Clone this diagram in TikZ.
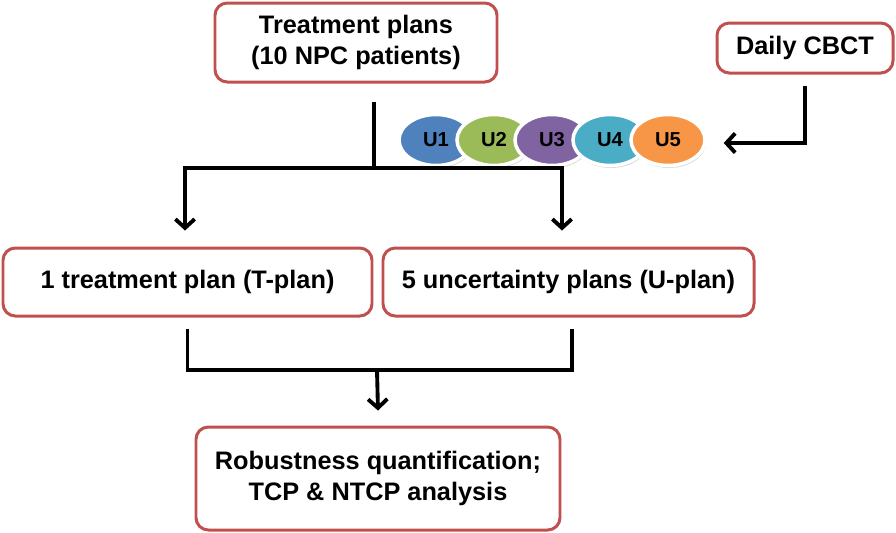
\documentclass[tikz,border=0pt]{standalone}
\usepackage{fontspec}
\setmainfont{Liberation Sans}
\usepackage{tikz}
\usetikzlibrary{arrows.meta,shapes,positioning,shadows}
\usepackage{xcolor}
\definecolor{boxred}{RGB}{192,80,77}
\definecolor{uc1}{RGB}{79,129,189}
\definecolor{uc2}{RGB}{155,187,89}
\definecolor{uc3}{RGB}{128,100,162}
\definecolor{uc4}{RGB}{75,172,198}
\definecolor{uc5}{RGB}{247,150,70}
\tikzstyle{conn} = [line width=2.2pt,color=black]
\tikzstyle{arrow} = [conn,-{Straight Barb[length=5pt,width=11pt]}]
\tikzstyle{planbox} = [rectangle, rounded corners=7pt, text centered, draw=boxred, fill=white, line width=1.7pt, font=\fontsize{14.4}{17.5}\selectfont\bfseries, align=center]
\tikzstyle{uellipse} = [ellipse, minimum width=1.48cm, minimum height=1.02cm, inner sep=0pt, draw=white, line width=2pt, font=\fontsize{11.5}{13}\selectfont\bfseries, drop shadow={shadow xshift=0.6pt, shadow yshift=-1.4pt, opacity=0.3}]

\begin{document}
\begin{tikzpicture}
\useasboundingbox (0,0) rectangle (17.92,-10.64);

% Input data
\node (plans) [planbox, minimum width=5.64cm, minimum height=1.58cm] at (7.12,-0.85) {Treatment plans\\(10 NPC patients)};
\node (cbct) [planbox, right of=plans, node distance=8.98cm, yshift=-0.11cm, minimum width=3.52cm, minimum height=1cm] {Daily CBCT};

% Uncertainty scenarios
\foreach \i in {1,...,5}
  \node (u\i) [uellipse, fill=uc\i] at ({8.72+1.16*(\i-1)},-2.8) {U\i};

% Plan sets
\node (tplan) [planbox, minimum width=7.38cm, minimum height=1.36cm] at (3.75,-5.64) {1 treatment plan (T-plan)};
\node (uplan) [planbox, right of=tplan, node distance=7.62cm, minimum width=7.42cm, minimum height=1.36cm] {5 uncertainty plans (U-plan)};

% Output
\node (result) [planbox, minimum width=7.28cm, minimum height=2.06cm] at (7.56,-9.57) {Robustness quantification;\\TCP \& NTCP analysis};

% Connectors
\coordinate (split) at (7.48,-3.36);
\coordinate (merge) at (7.54,-7.4);
\draw[conn] ([xshift=0.36cm,yshift=-0.36cm]plans.south) -- (split);
\draw[arrow] (split) -| ([xshift=-0.05cm,yshift=0.32cm]tplan.north);
\draw[arrow] (split) -| ([xshift=-0.13cm,yshift=0.32cm]uplan.north);
\draw[arrow] ([yshift=-0.22cm]cbct.south) |- ([xshift=0.34cm,yshift=-0.06cm]u5.east);
\draw[conn] ([yshift=-0.22cm]tplan.south) |- (merge);
\draw[conn] ([xshift=0.07cm,yshift=-0.22cm]uplan.south) |- (merge);
\draw[arrow] (merge) -- ([yshift=0.3cm]result.north);
\end{tikzpicture}
\end{document}
